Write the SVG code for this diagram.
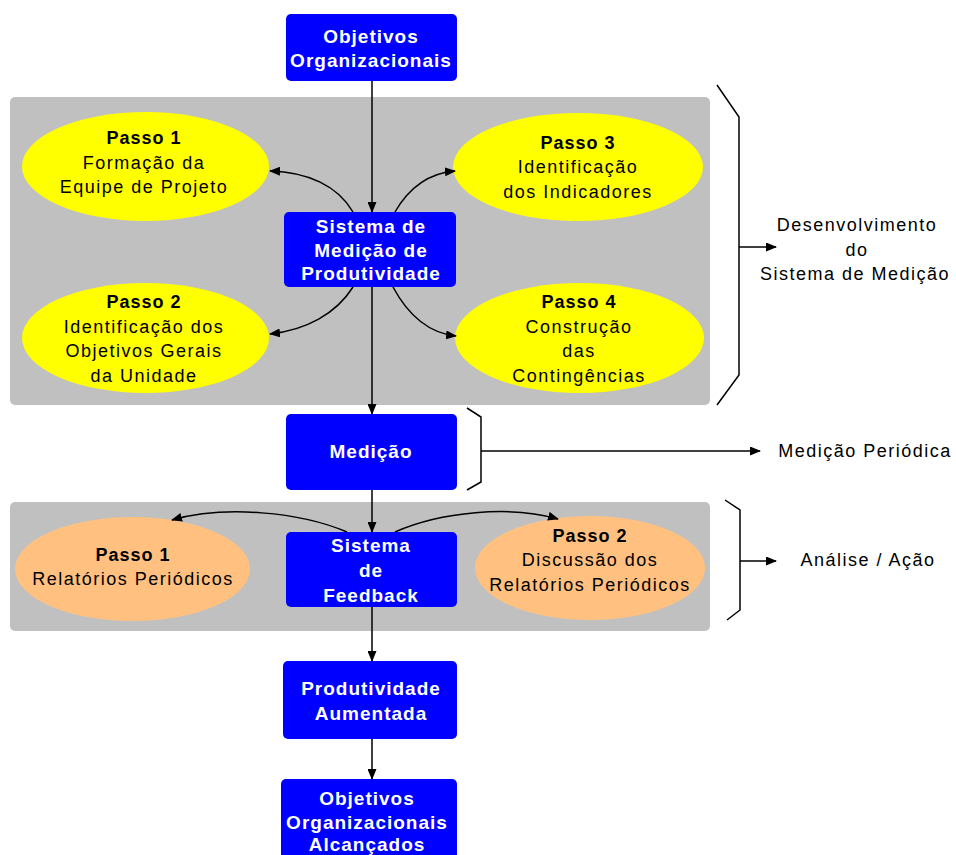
<svg xmlns="http://www.w3.org/2000/svg" width="956" height="855" viewBox="0 0 956 855">
<defs>
<style>
.panel{fill:#C0C0C0}
.box{fill:#0000FF}
.yel{fill:#FFFF00}
.org{fill:#FFC080}
.bt{font-family:"Liberation Sans",Arial,sans-serif;font-size:19px;font-weight:bold;fill:#FFFFFF;text-anchor:middle;letter-spacing:1px}
.st{font-family:"Liberation Sans",Arial,sans-serif;font-size:18px;font-weight:bold;fill:#000;text-anchor:middle;letter-spacing:1px}
.rt{font-family:"Liberation Sans",Arial,sans-serif;font-size:18px;fill:#000;text-anchor:middle;letter-spacing:1.5px}
.ln{fill:none;stroke:#000;stroke-width:1.5}
.ar{fill:none;stroke:#000;stroke-width:1.5;marker-end:url(#ah)}
</style>
<marker id="ah" markerUnits="userSpaceOnUse" markerWidth="11" markerHeight="9" refX="10" refY="4.5" orient="auto">
<path d="M0,0 L11,4.5 L0,9 z" fill="#000"/>
</marker>
</defs>
<rect width="956" height="855" fill="#FFFFFF"/>
<g id="panel-desenvolvimento"><rect class="panel" x="10" y="97" width="700" height="308" rx="5"/></g>
<g id="panel-feedback"><rect class="panel" x="10" y="502" width="700" height="129" rx="5"/></g>

<g id="node-objetivos">
<rect class="box" x="286" y="14" width="171" height="67" rx="5"/>
<text class="bt" x="371" y="43">Objetivos</text>
<text class="bt" x="371" y="67">Organizacionais</text>
</g>
<g id="node-passo1">
<ellipse class="yel" cx="145.5" cy="166.5" rx="123.5" ry="54.5"/>
<text class="st" x="144" y="144">Passo 1</text>
<text class="rt" x="144" y="169">Formação da</text>
<text class="rt" x="144" y="193">Equipe de Projeto</text>
</g>
<g id="node-passo3">
<ellipse class="yel" cx="578" cy="167" rx="125" ry="54"/>
<text class="st" x="578" y="149">Passo 3</text>
<text class="rt" x="578" y="173">Identificação</text>
<text class="rt" x="578" y="198">dos Indicadores</text>
</g>
<g id="node-sistema-medicao">
<rect class="box" x="284" y="212" width="172" height="75" rx="5"/>
<text class="bt" x="371" y="233">Sistema de</text>
<text class="bt" x="371" y="257">Medição de</text>
<text class="bt" x="371" y="280">Produtividade</text>
</g>
<g id="node-passo2">
<ellipse class="yel" cx="145.5" cy="338" rx="123.5" ry="55"/>
<text class="st" x="144" y="308">Passo 2</text>
<text class="rt" x="144" y="333">Identificação dos</text>
<text class="rt" x="144" y="357">Objetivos Gerais</text>
<text class="rt" x="144" y="382">da Unidade</text>
</g>
<g id="node-passo4">
<ellipse class="yel" cx="579.5" cy="338" rx="124.5" ry="55"/>
<text class="st" x="579" y="308">Passo 4</text>
<text class="rt" x="579" y="333">Construção</text>
<text class="rt" x="579" y="357">das</text>
<text class="rt" x="579" y="382">Contingências</text>
</g>
<g id="node-medicao">
<rect class="box" x="286" y="414" width="171" height="76" rx="5"/>
<text class="bt" x="371" y="458">Medição</text>
</g>
<g id="node-fb-passo1">
<ellipse class="org" cx="132.5" cy="569" rx="117.5" ry="52"/>
<text class="st" x="133" y="561">Passo 1</text>
<text class="rt" x="133" y="585">Relatórios Periódicos</text>
</g>
<g id="node-sistema-feedback">
<rect class="box" x="286" y="532" width="171" height="75" rx="5"/>
<text class="bt" x="371" y="552">Sistema</text>
<text class="bt" x="371" y="577">de</text>
<text class="bt" x="371" y="602">Feedback</text>
</g>
<g id="node-fb-passo2">
<ellipse class="org" cx="590" cy="568" rx="115" ry="52"/>
<text class="st" x="590" y="542">Passo 2</text>
<text class="rt" x="590" y="566">Discussão dos</text>
<text class="rt" x="590" y="591">Relatórios Periódicos</text>
</g>
<g id="node-produtividade">
<rect class="box" x="283" y="661" width="174" height="78" rx="5"/>
<text class="bt" x="371" y="695">Produtividade</text>
<text class="bt" x="371" y="720">Aumentada</text>
</g>
<g id="node-alcancados">
<rect class="box" x="281" y="779" width="176" height="90" rx="5"/>
<text class="bt" x="367" y="805">Objetivos</text>
<text class="bt" x="367" y="829">Organizacionais</text>
<text class="bt" x="367" y="851">Alcançados</text>
</g>

<g id="label-desenvolvimento">
<text class="rt" x="857" y="231">Desenvolvimento</text>
<text class="rt" x="857" y="256">do</text>
<text class="rt" x="855" y="280">Sistema de Medição</text>
</g>
<g id="label-medicao-periodica">
<text class="rt" x="865" y="457">Medição Periódica</text>
</g>
<g id="label-analise">
<text class="rt" x="868" y="566">Análise / Ação</text>
</g>

<g id="connectors">
<line class="ar" x1="372" y1="81" x2="372" y2="212"/>
<path class="ar" d="M353,212 C338,186 308,172 270,171"/>
<path class="ar" d="M395,212 C410,186 430,173 455,171"/>
<path class="ar" d="M353,287 C336,314 306,330 270,334"/>
<path class="ar" d="M393,287 C408,315 428,333 456,336"/>
<line class="ar" x1="372" y1="287" x2="372" y2="414"/>
<line class="ar" x1="372" y1="490" x2="372" y2="532"/>
<path class="ar" d="M347,532 C300,512 225,505 172,520"/>
<path class="ar" d="M395,532 C440,512 510,505 558,519"/>
<line class="ar" x1="372" y1="607" x2="372" y2="661"/>
<line class="ar" x1="372" y1="739" x2="372" y2="779"/>
<path class="ln" d="M717,85 L739,117 L739,375 L717,405"/>
<line class="ar" x1="739" y1="247" x2="776" y2="247"/>
<path class="ln" d="M467,408 L481,417 L481,482 L467,490"/>
<line class="ar" x1="481" y1="451" x2="760" y2="451"/>
<path class="ln" d="M725,500 L740,510 L740,610 L727,620"/>
<line class="ar" x1="740" y1="561" x2="776" y2="561"/>
</g>
</svg>
